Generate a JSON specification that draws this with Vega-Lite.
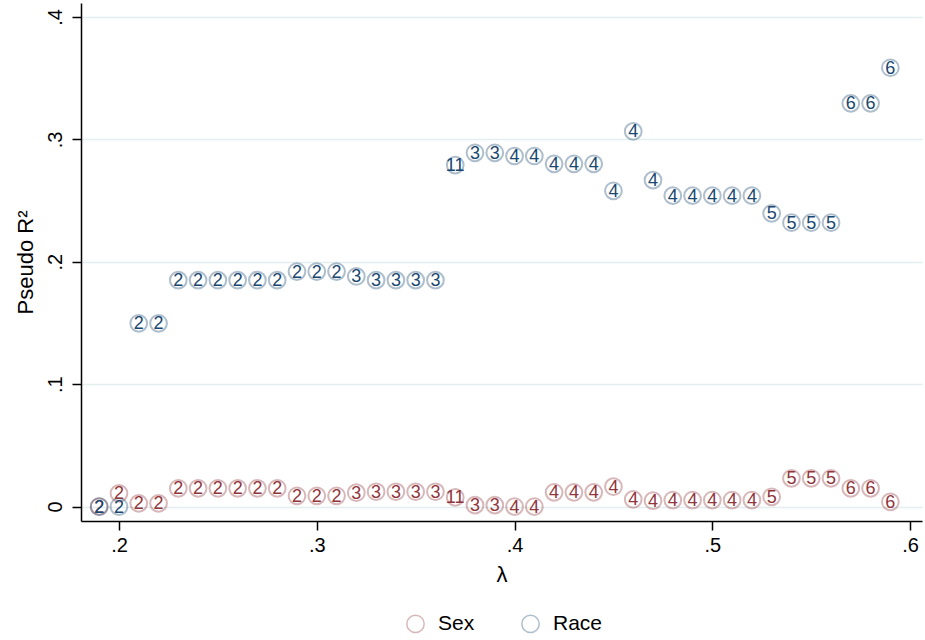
{
  "$schema": "https://vega.github.io/schema/vega-lite/v6.json",
  "width": 841,
  "height": 518,
  "autosize": {"type": "none"},
  "padding": {"left": 81, "top": 3, "right": 3, "bottom": 119},
  "background": "white",
  "config": {
    "font": "Liberation Sans",
    "view": {"stroke": null},
    "axis": {"domainColor": "black", "tickColor": "black", "labelColor": "black", "titleColor": "black", "domainWidth": 1.5, "tickWidth": 1.5}
  },
  "data": {
    "values": [
      {"lambda": 0.19, "r2": 0.0, "group": "Sex", "n": "2"},
      {"lambda": 0.20, "r2": 0.0108, "group": "Sex", "n": "2"},
      {"lambda": 0.21, "r2": 0.0026, "group": "Sex", "n": "2"},
      {"lambda": 0.22, "r2": 0.0026, "group": "Sex", "n": "2"},
      {"lambda": 0.23, "r2": 0.0149, "group": "Sex", "n": "2"},
      {"lambda": 0.24, "r2": 0.0149, "group": "Sex", "n": "2"},
      {"lambda": 0.25, "r2": 0.0149, "group": "Sex", "n": "2"},
      {"lambda": 0.26, "r2": 0.0149, "group": "Sex", "n": "2"},
      {"lambda": 0.27, "r2": 0.0149, "group": "Sex", "n": "2"},
      {"lambda": 0.28, "r2": 0.0149, "group": "Sex", "n": "2"},
      {"lambda": 0.29, "r2": 0.0088, "group": "Sex", "n": "2"},
      {"lambda": 0.30, "r2": 0.0088, "group": "Sex", "n": "2"},
      {"lambda": 0.31, "r2": 0.0088, "group": "Sex", "n": "2"},
      {"lambda": 0.32, "r2": 0.0113, "group": "Sex", "n": "3"},
      {"lambda": 0.33, "r2": 0.0121, "group": "Sex", "n": "3"},
      {"lambda": 0.34, "r2": 0.0121, "group": "Sex", "n": "3"},
      {"lambda": 0.35, "r2": 0.0121, "group": "Sex", "n": "3"},
      {"lambda": 0.36, "r2": 0.0121, "group": "Sex", "n": "3"},
      {"lambda": 0.37, "r2": 0.0075, "group": "Sex", "n": "11"},
      {"lambda": 0.38, "r2": 0.0012, "group": "Sex", "n": "3"},
      {"lambda": 0.39, "r2": 0.0012, "group": "Sex", "n": "3"},
      {"lambda": 0.40, "r2": 0.0, "group": "Sex", "n": "4"},
      {"lambda": 0.41, "r2": 0.0, "group": "Sex", "n": "4"},
      {"lambda": 0.42, "r2": 0.0116, "group": "Sex", "n": "4"},
      {"lambda": 0.43, "r2": 0.0116, "group": "Sex", "n": "4"},
      {"lambda": 0.44, "r2": 0.0116, "group": "Sex", "n": "4"},
      {"lambda": 0.45, "r2": 0.0162, "group": "Sex", "n": "4"},
      {"lambda": 0.46, "r2": 0.0059, "group": "Sex", "n": "4"},
      {"lambda": 0.47, "r2": 0.0048, "group": "Sex", "n": "4"},
      {"lambda": 0.48, "r2": 0.0053, "group": "Sex", "n": "4"},
      {"lambda": 0.49, "r2": 0.0053, "group": "Sex", "n": "4"},
      {"lambda": 0.50, "r2": 0.0053, "group": "Sex", "n": "4"},
      {"lambda": 0.51, "r2": 0.0053, "group": "Sex", "n": "4"},
      {"lambda": 0.52, "r2": 0.0053, "group": "Sex", "n": "4"},
      {"lambda": 0.53, "r2": 0.008, "group": "Sex", "n": "5"},
      {"lambda": 0.54, "r2": 0.023, "group": "Sex", "n": "5"},
      {"lambda": 0.55, "r2": 0.023, "group": "Sex", "n": "5"},
      {"lambda": 0.56, "r2": 0.023, "group": "Sex", "n": "5"},
      {"lambda": 0.57, "r2": 0.0149, "group": "Sex", "n": "6"},
      {"lambda": 0.58, "r2": 0.0149, "group": "Sex", "n": "6"},
      {"lambda": 0.59, "r2": 0.0039, "group": "Sex", "n": "6"},
      {"lambda": 0.19, "r2": 0.0, "group": "Race", "n": "2"},
      {"lambda": 0.20, "r2": 0.0, "group": "Race", "n": "2"},
      {"lambda": 0.21, "r2": 0.1497, "group": "Race", "n": "2"},
      {"lambda": 0.22, "r2": 0.1497, "group": "Race", "n": "2"},
      {"lambda": 0.23, "r2": 0.185, "group": "Race", "n": "2"},
      {"lambda": 0.24, "r2": 0.185, "group": "Race", "n": "2"},
      {"lambda": 0.25, "r2": 0.185, "group": "Race", "n": "2"},
      {"lambda": 0.26, "r2": 0.185, "group": "Race", "n": "2"},
      {"lambda": 0.27, "r2": 0.185, "group": "Race", "n": "2"},
      {"lambda": 0.28, "r2": 0.185, "group": "Race", "n": "2"},
      {"lambda": 0.29, "r2": 0.192, "group": "Race", "n": "2"},
      {"lambda": 0.30, "r2": 0.192, "group": "Race", "n": "2"},
      {"lambda": 0.31, "r2": 0.192, "group": "Race", "n": "2"},
      {"lambda": 0.32, "r2": 0.188, "group": "Race", "n": "3"},
      {"lambda": 0.33, "r2": 0.185, "group": "Race", "n": "3"},
      {"lambda": 0.34, "r2": 0.185, "group": "Race", "n": "3"},
      {"lambda": 0.35, "r2": 0.185, "group": "Race", "n": "3"},
      {"lambda": 0.36, "r2": 0.185, "group": "Race", "n": "3"},
      {"lambda": 0.37, "r2": 0.279, "group": "Race", "n": "11"},
      {"lambda": 0.38, "r2": 0.289, "group": "Race", "n": "3"},
      {"lambda": 0.39, "r2": 0.289, "group": "Race", "n": "3"},
      {"lambda": 0.40, "r2": 0.2864, "group": "Race", "n": "4"},
      {"lambda": 0.41, "r2": 0.2864, "group": "Race", "n": "4"},
      {"lambda": 0.42, "r2": 0.280, "group": "Race", "n": "4"},
      {"lambda": 0.43, "r2": 0.280, "group": "Race", "n": "4"},
      {"lambda": 0.44, "r2": 0.280, "group": "Race", "n": "4"},
      {"lambda": 0.45, "r2": 0.258, "group": "Race", "n": "4"},
      {"lambda": 0.46, "r2": 0.3065, "group": "Race", "n": "4"},
      {"lambda": 0.47, "r2": 0.2667, "group": "Race", "n": "4"},
      {"lambda": 0.48, "r2": 0.254, "group": "Race", "n": "4"},
      {"lambda": 0.49, "r2": 0.254, "group": "Race", "n": "4"},
      {"lambda": 0.50, "r2": 0.254, "group": "Race", "n": "4"},
      {"lambda": 0.51, "r2": 0.254, "group": "Race", "n": "4"},
      {"lambda": 0.52, "r2": 0.254, "group": "Race", "n": "4"},
      {"lambda": 0.53, "r2": 0.2395, "group": "Race", "n": "5"},
      {"lambda": 0.54, "r2": 0.2319, "group": "Race", "n": "5"},
      {"lambda": 0.55, "r2": 0.2319, "group": "Race", "n": "5"},
      {"lambda": 0.56, "r2": 0.2319, "group": "Race", "n": "5"},
      {"lambda": 0.57, "r2": 0.3294, "group": "Race", "n": "6"},
      {"lambda": 0.58, "r2": 0.3294, "group": "Race", "n": "6"},
      {"lambda": 0.59, "r2": 0.3585, "group": "Race", "n": "6"}
    ]
  },
  "encoding": {
    "x": {
      "field": "lambda", "type": "quantitative",
      "scale": {"domain": [0.1808, 0.606], "nice": false, "zero": false},
      "axis": {
        "title": "λ", "titleFontSize": 22, "titleFontWeight": "normal", "titlePadding": 9,
        "values": [0.2, 0.3, 0.4, 0.5, 0.6],
        "labelExpr": "slice(format(datum.value, '.1f'), 1)",
        "labelFontSize": 20, "tickSize": 9, "labelPadding": 5, "grid": false
      }
    },
    "y": {
      "field": "r2", "type": "quantitative",
      "scale": {"domain": [-0.0118, 0.4114], "nice": false, "zero": false},
      "axis": {
        "title": "Pseudo R²", "titleFontSize": 22, "titleFontWeight": "normal", "titlePadding": 8,
        "values": [0, 0.1, 0.2, 0.3, 0.4],
        "labelExpr": "datum.value == 0 ? '0' : slice(format(datum.value, '.1f'), 1)",
        "labelFontSize": 20, "labelAngle": -90, "labelAlign": "center", "labelBaseline": "bottom",
        "tickSize": 9, "labelPadding": 7,
        "grid": true, "gridColor": "#e4eeee", "gridWidth": 1.5
      }
    }
  },
  "layer": [
    {
      "mark": {"type": "point", "shape": "circle", "filled": false, "size": 280, "strokeWidth": 2, "opacity": 0.35},
      "encoding": {
        "stroke": {
          "field": "group", "type": "nominal",
          "scale": {"domain": ["Sex", "Race"], "range": ["#90353b", "#1a476f"]},
          "legend": {
            "title": null, "orient": "none", "direction": "horizontal",
            "legendX": 324, "legendY": 610,
            "labelFontSize": 21, "symbolSize": 300, "symbolStrokeWidth": 1.5,
            "symbolType": "circle", "symbolOpacity": 0.35,
            "labelOffset": 12, "columnPadding": 43, "padding": 0
          }
        }
      }
    },
    {
      "mark": {"type": "text", "fontSize": 18, "baseline": "middle", "align": "center", "dy": 1},
      "encoding": {
        "text": {"field": "n"},
        "fill": {
          "condition": {"test": "datum.group === 'Sex'", "value": "#90353b"},
          "value": "#1a476f"
        }
      }
    }
  ]
}
